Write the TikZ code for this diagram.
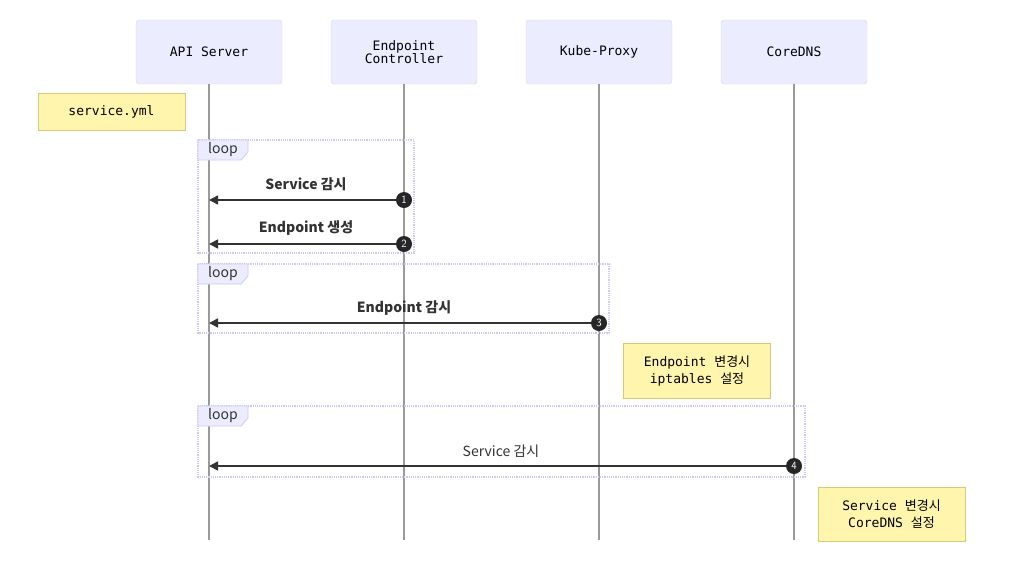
\documentclass[tikz,border=0pt]{standalone}
\usepackage{fontspec}
\setmainfont{Liberation Sans}
\setmonofont{DejaVu Sans Mono}
\newfontfamily\kr{Noto Sans CJK KR}
\usepackage{xcolor}
\usetikzlibrary{arrows.meta}

\definecolor{actfill}{HTML}{ECECFF}
\definecolor{actdraw}{HTML}{D6D6F5}
\definecolor{notefill}{HTML}{FFF5AD}
\definecolor{notedraw}{HTML}{D3CB7A}
\definecolor{lifegray}{HTML}{999999}
\definecolor{msgcol}{HTML}{333333}
\definecolor{loopdraw}{HTML}{CFC8F2}

\tikzset{
  actor/.style={draw=actdraw, fill=actfill, rounded corners=3pt, minimum width=146pt,
    minimum height=64pt, align=center, inner sep=0pt,
    font=\ttfamily\fontsize{13}{13}\selectfont},
  notebox/.style={draw=notedraw, fill=notefill, minimum width=147pt, align=center,
    inner sep=0pt, font=\ttfamily\fontsize{13}{17}\selectfont},
  life/.style={lifegray, line width=1.6pt},
  msg/.style={msgcol, line width=1.6pt, -{Triangle[length=9pt,width=9pt]}},
  msglabel/.style={font=\kr\bfseries\fontsize{14}{14}\selectfont, text=msgcol},
  num/.style={circle, fill=black!85, text=white, inner sep=0pt, minimum size=16pt,
    font=\sffamily\fontsize{11}{11}\selectfont},
  loopbox/.style={draw=loopdraw, densely dotted, line width=1.2pt},
  looptag/.style={draw=loopdraw, fill=actfill, line width=0.8pt},
  looptext/.style={font=\kr\fontsize{14}{14}\selectfont, text=msgcol}
}

\begin{document}
\begin{tikzpicture}[x=1pt, y=-1pt]
  \useasboundingbox (0,0) rectangle (1024,574);

  % participants and lifelines
  \foreach \nm/\x/\txt in {api/209/API Server, ctrl/404/{Endpoint\\Controller},
      proxy/599/Kube-Proxy, dns/794/CoreDNS}
  {
    \node[actor] (\nm) at (\x,52) {\txt};
    \coordinate (\nm-end) at (\x,540);
    \draw[life] (\nm.south) -- (\nm-end);
  }

  % notes
  \node[notebox, minimum height=37pt] (yml) at (111.5,111.5) {service.yml};
  \node[notebox, minimum height=55pt] (ipt) at (697,370.5) {Endpoint {\kr 변경시}\\iptables {\kr 설정}};
  \node[notebox, minimum height=54pt] (dnsnote) at (891.5,514) {Service {\kr 변경시}\\CoreDNS {\kr 설정}};

  % loops
  \foreach \top/\bot/\right in {140/253/414, 264/333/609, 406/477/805}
  {
    \draw[loopbox] (198,\top) rectangle (\right,\bot);
    \draw[looptag] (198,\top) -- (248,\top) -- (248,\top+12) -- (241,\top+20)
      -- (198,\top+20) -- cycle;
    \node[looptext] at (223,\top+10) {loop};
  }

  % messages
  \coordinate (t1) at (209,200);
  \coordinate (t2) at (209,244);
  \coordinate (t3) at (209,323);
  \coordinate (t4) at (209,466);
  \node[num] (n1) at (404,200) {1};
  \node[num] (n2) at (404,244) {2};
  \node[num] (n3) at (599,323) {3};
  \node[num] (n4) at (794,466) {4};
  \draw[msg] (n1) -- (t1);
  \draw[msg] (n2) -- (t2);
  \draw[msg] (n3) -- (t3);
  \draw[msg] (n4) -- (t4);
  \node[msglabel] (m1) at (306,184) {Service 감시};
  \node[msglabel] (m2) at (306,228) {Endpoint 생성};
  \node[msglabel] (m3) at (404,308) {Endpoint 감시};
  \node[msglabel, font=\kr\fontsize{14}{14}\selectfont] (m4) at (501,451) {Service 감시};
\end{tikzpicture}
\end{document}
